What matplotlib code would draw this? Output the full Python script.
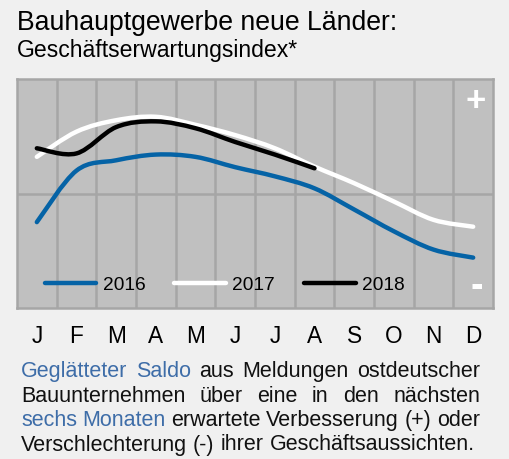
import numpy as np
import matplotlib
matplotlib.use("Agg")
import matplotlib.pyplot as plt
from matplotlib.path import Path
from matplotlib.patches import PathPatch
from matplotlib.lines import Line2D

plt.rcParams['font.family'] = ['Liberation Sans', 'DejaVu Sans']

# Daten (geglätteter Saldo)
months = ['J', 'F', 'M', 'A', 'M', 'J', 'J', 'A', 'S', 'O', 'N', 'D']
v2016 = [-0.25, 0.20, 0.29, 0.34, 0.32, 0.23, 0.15, 0.045, -0.14, -0.33, -0.49, -0.56]
v2017 = [0.32, 0.54, 0.64, 0.67, 0.60, 0.51, 0.395, 0.235, 0.09, -0.07, -0.23, -0.29]
v2018 = [0.395, 0.35, 0.58, 0.63, 0.57, 0.45, 0.34, 0.22]

blue = '#0563a6'
bg = '#f0f0f0'


def smooth_path(x, y):
    # Catmull-Rom -> kubische Bezier
    pts = np.column_stack([x, y]).astype(float)
    n = len(pts)
    verts = [pts[0]]
    codes = [Path.MOVETO]
    for i in range(n - 1):
        p0 = pts[max(i - 1, 0)]
        p1 = pts[i]
        p2 = pts[i + 1]
        p3 = pts[min(i + 2, n - 1)]
        c1 = p1 + (p2 - p0) / 6
        c2 = p2 - (p3 - p1) / 6
        verts += [c1, c2, p2]
        codes += [Path.CURVE4] * 3
    return Path(verts, codes)


fig = plt.figure(figsize=(5.09, 4.59), dpi=100, facecolor=bg)
ax = fig.add_axes([17 / 509, 1 - 308 / 459, 476 / 509, 229 / 459])
ax.set_facecolor('#c0c0c0')
ax.set_xlim(-0.5, 11.5)
ax.set_ylim(-1, 1)

for xv in np.arange(0.5, 11, 1):
    ax.axvline(xv, color='#a6a6a6', lw=1.8, zorder=1)
ax.axhline(0, color='#a6a6a6', lw=1.8, zorder=1)
for s in ax.spines.values():
    s.set_color('#a6a6a6')
    s.set_linewidth(1.8)

series = [(v2016, blue, '2016'), (v2017, 'white', '2017'), (v2018, 'black', '2018')]
handles = []
for i, (vals, col, lab) in enumerate(series):
    p = smooth_path(np.arange(len(vals)), vals)
    ax.add_patch(PathPatch(p, facecolor='none', edgecolor=col, lw=3.2,
                           capstyle='round', joinstyle='round', zorder=3 + i))
    handles.append(Line2D([], [], color=col, lw=3.2, solid_capstyle='round'))

leg = ax.legend(handles, [s[2] for s in series], ncol=3, loc='center left',
                bbox_to_anchor=(0.058, 0.1), frameon=False, fontsize=13.8,
                handlelength=2.7, handletextpad=0.33, columnspacing=1.5,
                borderaxespad=0, borderpad=0)

ax.set_xticks(range(12))
ax.set_xticklabels(months, fontsize=16.3)
ax.set_yticks([])
ax.tick_params(axis='x', length=0, pad=12)

ax.text(0.984, 0.9, '+', transform=ax.transAxes, color='white', fontsize=25,
        fontweight='bold', ha='right', va='center')
ax.text(0.978, 0.09, '-', transform=ax.transAxes, color='white', fontsize=27,
        fontweight='bold', ha='right', va='center')

fig.text(17 / 509, 1 - 30 / 459, 'Bauhauptgewerbe neue Länder:', fontsize=19.2,
         va='baseline', ha='left')
fig.text(17 / 509, 1 - 57.5 / 459, 'Geschäftserwartungsindex*', fontsize=16.6,
         va='baseline', ha='left')

# Fußnote, Blocksatz
lines = [
    [('Geglätteter', 'b'), ('Saldo', 'b'), ('aus', 'k'), ('Meldungen', 'k'), ('ostdeutscher', 'k')],
    [('Bauunternehmen', 'k'), ('über', 'k'), ('eine', 'k'), ('in', 'k'), ('den', 'k'), ('nächsten', 'k')],
    [('sechs', 'b'), ('Monaten', 'b'), ('erwartete', 'k'), ('Verbesserung', 'k'), ('(+)', 'k'), ('oder', 'k')],
    [('Verschlechterung', 'k'), ('(-)', 'k'), ('ihrer', 'k'), ('Geschäftsaussichten.', 'k')],
]
baselines = [377, 401.5, 426, 450.5]
x0, x1 = 21, 480
fs = 15.5
cmap = {'b': '#3e6da8', 'k': '#111111'}
renderer = fig.canvas.get_renderer()
for li, (words, yb) in enumerate(zip(lines, baselines)):
    texts = [fig.text(0, 1 - yb / 459, w, fontsize=fs, color=cmap[c], va='baseline', ha='left')
             for w, c in words]
    widths = [t.get_window_extent(renderer).width for t in texts]
    if li < len(lines) - 1:
        gap = (x1 - x0 - sum(widths)) / (len(words) - 1)
    else:
        t1 = fig.text(0, 0, 'a a', fontsize=fs)
        t2 = fig.text(0, 0, 'aa', fontsize=fs)
        gap = t1.get_window_extent(renderer).width - t2.get_window_extent(renderer).width
        t1.remove()
        t2.remove()
    xp = x0
    for t, w in zip(texts, widths):
        t.set_x(xp / 509)
        xp += w + gap

fig.savefig('out.png', dpi=100, facecolor=bg)
